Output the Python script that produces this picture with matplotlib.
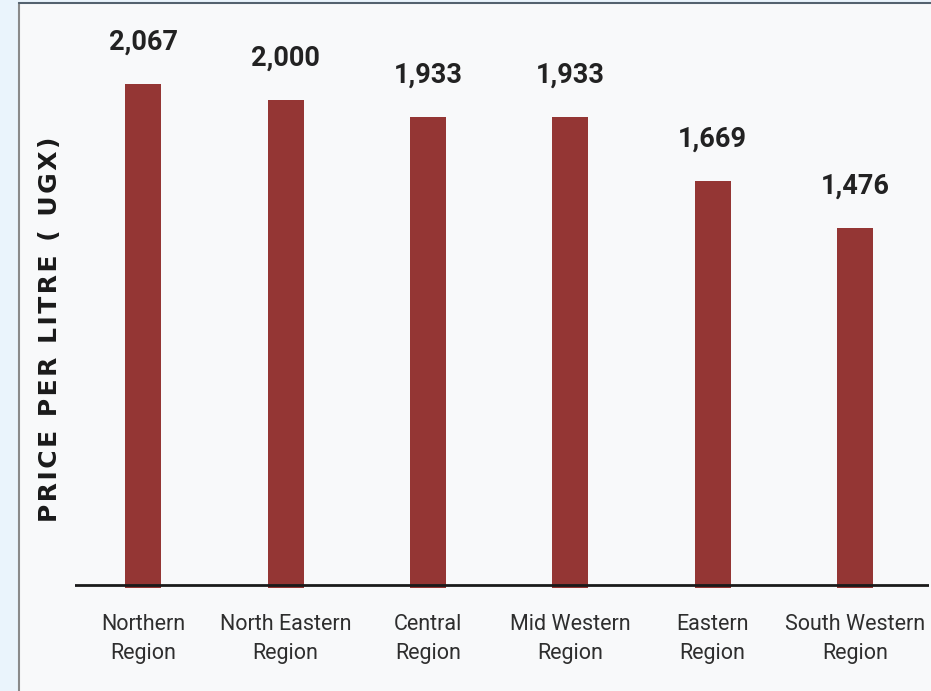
import matplotlib
matplotlib.use("Agg")
import matplotlib.pyplot as plt
from matplotlib.patches import Rectangle

categories = ["Northern\nRegion", "North Eastern\nRegion", "Central\nRegion",
              "Mid Western\nRegion", "Eastern\nRegion", "South Western\nRegion"]
values = [2067, 2000, 1933, 1933, 1669, 1476]
value_labels = ["2,067", "2,000", "1,933", "1,933", "1,669", "1,476"]
y_title = "PRICE PER LITRE ( UGX)"

W, H = 931, 691
fig = plt.figure(figsize=(W / 100, H / 100), dpi=100)
fig.patch.set_facecolor("#EAF4FC")

# white panel
panel = Rectangle((19 / W, -0.01), 1.0, (H - 3) / H + 0.01, transform=fig.transFigure,
                  facecolor="#F8F9FA", edgecolor="#8A8A8A", linewidth=1.5, zorder=-5)
fig.patches.append(panel)
fig.add_artist(plt.Line2D([19 / W, 1], [(H - 3) / H] * 2, transform=fig.transFigure,
                          color="#4A5A6A", linewidth=1.2, zorder=-4))

left = 75 / W
right = 929 / W
bottom = (H - 588) / H
top = (H - 3) / H
ax = fig.add_axes([left, bottom, right - left, top - bottom])
ax.set_facecolor("none")
ax.set_zorder(1)

x = list(range(len(categories)))
ax.bar(x, values, width=0.255, color="#943634", zorder=2)
ax.set_xlim(-0.48, len(categories) - 0.48)
ylim_top = 585 / (504 / 2067)
ax.set_ylim(0, ylim_top)

# baseline slightly above the bar bottoms
ax.axhline(12.3, color="#1a1a1a", linewidth=2, zorder=3)

for xi, v, lab in zip(x, values, value_labels):
    ax.annotate(lab, (xi, v), xytext=(0, 42), textcoords="offset pixels",
                ha="center", va="center", fontsize=19.5, fontweight="bold",
                color="#222222", family=["Roboto", "DejaVu Sans"])

ax.set_xticks(x)
ax.set_xticklabels(categories, fontsize=15.5, color="#2e2e2e", linespacing=1.5,
                   family=["Roboto", "DejaVu Sans"])
ax.tick_params(axis="x", length=0, pad=18.5)
ax.set_yticks([])
for s in ax.spines.values():
    s.set_visible(False)

spaced = "\u200a".join(y_title)
fig.text(50 / W, (H - 329) / H, spaced, rotation=90,
         ha="center", va="center", fontsize=18, fontweight="bold", color="#1a1a1a",
         family=["DejaVu Sans"])

fig.savefig("out.png", dpi=100, facecolor=fig.get_facecolor())
